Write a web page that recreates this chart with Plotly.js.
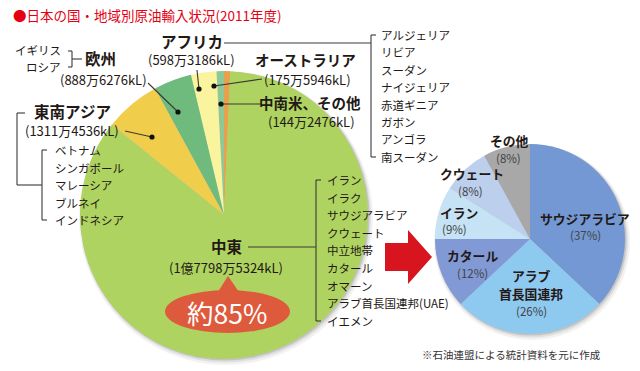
<!DOCTYPE html>
<html><head><meta charset="utf-8">
<script src="https://cdn.plot.ly/plotly-3.0.1.min.js"></script>
<style>html,body{margin:0;padding:0;background:#fff}#chart{width:640px;height:371px}</style>
</head><body><div id="chart"></div>
<script>
// ---------- data ----------
const regions = ['中南米、その他', 'オーストラリア', 'アフリカ', '欧州', '東南アジア', '中東'];
const volumesKL = [1442476, 1755946, 5983186, 8886276, 13114536, 177985324];
const middleEastShareLabel = '約85%';

const meCountries = ['サウジアラビア', 'アラブ首長国連邦', 'カタール', 'イラン', 'クウェート', 'その他'];
const meShares = [37, 26, 12, 9, 8, 8];

const europeList = ['イギリス', 'ロシア'];
const seAsiaList = ['ベトナム', 'シンガポール', 'マレーシア', 'ブルネイ', 'インドネシア'];
const africaList = ['アルジェリア', 'リビア', 'スーダン', 'ナイジェリア', '赤道ギニア', 'ガボン', 'アンゴラ', '南スーダン'];
const middleEastList = ['イラン', 'イラク', 'サウジアラビア', 'クウェート', '中立地帯', 'カタール', 'オマーン', 'アラブ首長国連邦(UAE)', 'イエメン'];

const titleText = '●日本の国・地域別原油輸入状況(2011年度)';
const noteText = '※石油連盟による統計資料を元に作成';

// ---------- styles / layout ----------
const W = 640, H = 371;
const FONT = '"Noto Sans CJK JP", "Noto Sans", sans-serif';
const INK = '#231815';
const bigColors = ['#e8a04c', '#8fc897', '#faf49e', '#6fba7d', '#f1cd4c', '#aed360'];
const smallColors = ['#7398d3', '#8ec9f0', '#8199d4', '#c6e3f6', '#bccfec', '#a8a8a8'];
const BIG = {cx: 224, cy: 215, r: 144};
const SMALL = {cx: 530, cy: 239, r: 95};

const X = px => px / W;
const Y = py => 1 - py / H;

function fmtKL(v) {
  const oku = Math.floor(v / 1e8);
  const man = Math.floor((v % 1e8) / 1e4);
  const rest = v % 1e4;
  return '(' + (oku ? oku + '億' : '') + man + '万' + rest + 'kL)';
}
function domainOf(c) {
  return {x: [X(c.cx - c.r), X(c.cx + c.r)], y: [Y(c.cy + c.r), Y(c.cy - c.r)]};
}

const traces = [
  {
    type: 'pie', values: volumesKL, labels: regions, sort: false,
    direction: 'counterclockwise', rotation: 0,
    marker: {colors: bigColors, line: {width: 0}},
    textinfo: 'none', hoverinfo: 'label+value', domain: domainOf(BIG), showlegend: false
  },
  {
    type: 'pie', values: meShares, labels: meCountries, sort: false,
    direction: 'clockwise', rotation: 0,
    marker: {colors: smallColors, line: {width: 0}},
    textinfo: 'none', hoverinfo: 'label+percent', domain: domainOf(SMALL), showlegend: false
  }
];

const ann = [];
function txt(t, x, y, size, opts = {}) {
  ann.push(Object.assign({
    text: t, x: X(x), y: Y(y), xref: 'paper', yref: 'paper', showarrow: false,
    xanchor: 'center', yanchor: 'middle', borderpad: 0,
    font: {family: FONT, size: size, color: INK}
  }, opts));
}
const shapes = [];
function line(x0, y0, x1, y1, w = 1.1, c = '#3a3a3a') {
  shapes.push({type: 'line', xref: 'paper', yref: 'paper', x0: X(x0), y0: Y(y0), x1: X(x1), y1: Y(y1), line: {color: c, width: w}});
}
function dot(x, y, r = 2.6) {
  shapes.push({type: 'circle', xref: 'paper', yref: 'paper', x0: X(x - r), x1: X(x + r), y0: Y(y + r), y1: Y(y - r), fillcolor: '#111', line: {width: 0}});
}
function path(pts, fill) {
  const d = pts.map((p, i) => (i ? 'L' : 'M') + X(p[0]) + ',' + Y(p[1])).join(' ') + ' Z';
  shapes.push({type: 'path', xref: 'paper', yref: 'paper', path: d, fillcolor: fill, line: {width: 0}});
}

// soft shadows (drawn below traces)
function shadow(c, dx, dy, dr, col) {
  shapes.push({type: 'circle', layer: 'below', xref: 'paper', yref: 'paper',
    x0: X(c.cx + dx - c.r - dr), x1: X(c.cx + dx + c.r + dr),
    y0: Y(c.cy + dy + c.r + dr), y1: Y(c.cy + dy - c.r - dr),
    fillcolor: col, line: {width: 0}});
}
[BIG, SMALL].forEach(c => {
  shadow(c, 2, 3, 3, 'rgba(0,0,0,0.05)');
  shadow(c, 1.5, 2, 1.5, 'rgba(0,0,0,0.08)');
  shadow(c, 1, 1, 0.5, 'rgba(0,0,0,0.12)');
});

// title
txt(titleText, 12, 15, 13.5, {xanchor: 'left', font: {family: FONT, size: 13.5, color: '#e50012'}});

// 欧州
txt(europeList[0], 62, 50, 11.5, {xanchor: 'right'});
txt(europeList[1], 62, 67, 11.5, {xanchor: 'right'});
line(68, 51, 72, 51); line(72, 51, 72, 67); line(68, 67, 72, 67); line(72, 59, 82, 59);
txt('<b>' + regions[3] + '</b>', 84, 58, 15.5, {xanchor: 'left'});
txt(fmtKL(volumesKL[3]), 103, 79, 13);
line(148, 83, 178, 112); dot(178, 112);

// アフリカ
txt('<b>' + regions[2] + '</b>', 192, 41, 15.5);
txt(fmtKL(volumesKL[2]), 191, 60, 13);
line(197, 70, 199, 89); dot(199, 89);
line(224, 43, 371, 43);
line(371, 35, 371, 157); line(371, 35, 376, 35); line(371, 157, 376, 157);
africaList.forEach((t, i) => txt(t, 380, 35 + i * 17.4, 11.5, {xanchor: 'left'}));

// オーストラリア
txt('<b>' + regions[1] + '</b>', 305, 59, 14.5);
txt(fmtKL(volumesKL[1]), 307, 79, 13);
line(262, 79, 214, 86); dot(214, 86);

// 中南米、その他
txt('<b>' + regions[0] + '</b>', 310, 102, 14.5);
txt(fmtKL(volumesKL[0]), 311, 122, 13);
line(221, 104, 261, 104); dot(221, 104);

// 東南アジア
txt('<b>' + regions[4] + '</b>', 72, 111, 15.5);
txt(fmtKL(volumesKL[4]), 72, 130, 13);
line(125, 131, 152, 137); dot(152, 137);
line(17, 113, 25, 113); line(17, 113, 17, 185); line(17, 185, 42, 185);
line(42, 150, 42, 220); line(42, 150, 47, 150); line(42, 220, 47, 220);
seAsiaList.forEach((t, i) => txt(t, 54, 150 + i * 17.5, 11.5, {xanchor: 'left'}));

// 中東
txt('<b>' + regions[5] + '</b>', 227, 246, 15.5);
txt(fmtKL(volumesKL[5]), 226, 267, 13);
line(248, 247, 316, 247);
line(316, 180, 316, 321); line(316, 180, 321, 180); line(316, 321, 321, 321);
middleEastList.forEach((t, i) => txt(t, 326, 180 + i * 17.6, 11.5, {xanchor: 'left'}));

// 約85% bubble
path([[216, 295], [228, 276], [241, 295]], '#de5a3c');
shapes.push({type: 'circle', xref: 'paper', yref: 'paper', x0: X(165), x1: X(290), y0: Y(333), y1: Y(290), fillcolor: '#de5a3c', line: {width: 0}});
txt(middleEastShareLabel, 227, 312.5, 26.5, {font: {family: FONT, size: 26.5, color: '#ffffff'}});

// arrow
path([[385, 243], [408, 243], [408, 230], [432, 257], [408, 284], [408, 271], [385, 271]], '#d8141f');

// small pie labels
const smallPos = [
  {x: 585, ys: [218], px: 585, py: 235},
  {x: 531, ys: [275, 293], px: 531, py: 311},
  {x: 472, ys: [255], px: 472, py: 273},
  {x: 459, ys: [212], px: 454, py: 229},
  {x: 472, ys: [174], px: 470, py: 191},
  {x: 509, ys: [140], px: 508, py: 158}
];
const splitName = n => n === 'アラブ首長国連邦' ? ['アラブ', '首長国連邦'] : [n];
meCountries.forEach((n, i) => {
  const p = smallPos[i];
  splitName(n).forEach((part, k) => txt('<b>' + part + '</b>', p.x, p.ys[k], 12.8));
  txt('(' + meShares[i] + '%)', p.px, p.py, 11.5, {font: {family: FONT, size: 11.5, color: '#444'}});
});

// note
txt(noteText, 421, 354, 10.5, {xanchor: 'left', font: {family: FONT, size: 10.5, color: '#333'}});

const layout = {
  width: W, height: H, margin: {l: 0, r: 0, t: 0, b: 0},
  paper_bgcolor: '#fff', plot_bgcolor: '#fff',
  showlegend: false, annotations: ann, shapes: shapes,
  font: {family: FONT}
};
Plotly.newPlot('chart', traces, layout, {displayModeBar: false, staticPlot: true});
</script></body></html>
